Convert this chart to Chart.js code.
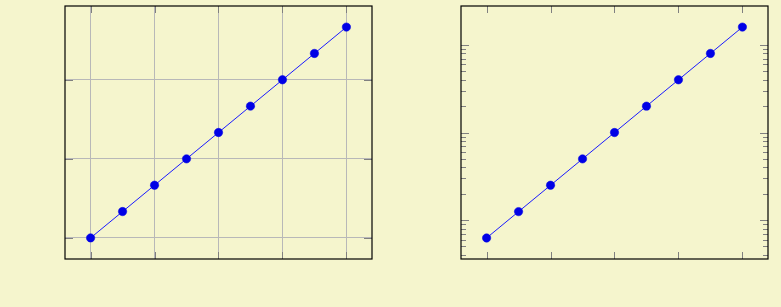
<!DOCTYPE html>
<html>
<head>
<meta charset="utf-8">
<script src="https://cdn.jsdelivr.net/npm/chart.js@4"></script>
<style>
  html, body { margin: 0; padding: 0; background: #f5f5cd; }
  .box { position: absolute; top: 0; height: 307px; }
  #left { left: 0; width: 390px; }
  #right { left: 390px; width: 391px; }
</style>
</head>
<body>
<div class="box" id="left"><canvas id="linChart"></canvas></div>
<div class="box" id="right"><canvas id="logChart"></canvas></div>
<script>
// data
const xValues = [0, 1, 2, 3, 4, 5, 6, 7, 8];
const linValues = [0, 1, 2, 3, 4, 5, 6, 7, 8];
const logValues = [0.625, 1.25, 2.5, 5, 10, 20, 40, 80, 160];

// ticks
const xTicks = [0, 2, 4, 6, 8];
const linYTicks = [0, 3, 6];
const logYTicks = [1, 10, 100];
const logMinorTicks = [0.4, 0.5, 0.6, 0.7, 0.8, 0.9, 2, 3, 4, 5, 6, 7, 8, 9, 20, 30, 40, 50, 60, 70, 80, 90];

const lineColor = '#1a1aff';
const markColor = '#0000e6';
const tickColor = '#808080';

function points(ys) {
    return xValues.map((x, i) => ({ x: x, y: ys[i] }));
}

// 框線與向內刻度
const frameTicks = {
    id: 'frameTicks',
    afterDraw(chart, args, opts) {
        const ctx = chart.ctx;
        const a = chart.chartArea;
        const xs = chart.scales.x;
        const ys = chart.scales.y;
        ctx.save();
        ctx.strokeStyle = tickColor;
        ctx.lineWidth = 1;
        ctx.beginPath();
        xTicks.forEach(v => {
            const px = Math.round(xs.getPixelForValue(v)) + 0.5;
            ctx.moveTo(px, a.top); ctx.lineTo(px, a.top + 7);
            ctx.moveTo(px, a.bottom); ctx.lineTo(px, a.bottom - 7);
        });
        opts.major.forEach(v => {
            const py = Math.round(ys.getPixelForValue(v)) + 0.5;
            ctx.moveTo(a.left, py); ctx.lineTo(a.left + 8, py);
            ctx.moveTo(a.right, py); ctx.lineTo(a.right - 8, py);
        });
        opts.minor.forEach(v => {
            const py = Math.round(ys.getPixelForValue(v)) + 0.5;
            ctx.moveTo(a.left, py); ctx.lineTo(a.left + 5, py);
            ctx.moveTo(a.right, py); ctx.lineTo(a.right - 5, py);
        });
        ctx.stroke();
        ctx.strokeStyle = '#000';
        ctx.lineWidth = 1.2;
        ctx.strokeRect(a.left, a.top, a.right - a.left, a.bottom - a.top);
        ctx.restore();
    }
};

function makeChart(id, ys, yScale, grid, major, minor, pad) {
    new Chart(document.getElementById(id), {
        type: 'line',
        data: {
            datasets: [{
                data: points(ys),
                borderColor: lineColor,
                borderWidth: 1,
                backgroundColor: markColor,
                pointBackgroundColor: markColor,
                pointBorderColor: markColor,
                pointRadius: 4.2,
                pointBorderWidth: 0.5,
                tension: 0
            }]
        },
        options: {
            responsive: true,
            maintainAspectRatio: false,
            animation: false,
            layout: { padding: pad },
            plugins: {
                legend: { display: false },
                tooltip: { enabled: false },
                frameTicks: { major: major, minor: minor }
            },
            scales: {
                x: {
                    type: 'linear',
                    min: -0.8,
                    max: 8.8,
                    afterBuildTicks: s => { s.ticks = xTicks.map(v => ({ value: v })); },
                    ticks: { display: false },
                    grid: { display: grid, color: '#b8b8b8', drawTicks: false },
                    border: { display: false }
                },
                y: Object.assign({
                    ticks: { display: false },
                    grid: { display: grid, color: '#b8b8b8', drawTicks: false },
                    border: { display: false }
                }, yScale)
            }
        },
        plugins: [frameTicks]
    });
}

makeChart('linChart', linValues, {
    type: 'linear',
    min: -0.8,
    max: 8.8,
    afterBuildTicks: s => { s.ticks = linYTicks.map(v => ({ value: v })); }
}, true, linYTicks, [], { left: 65, top: 6, right: 18, bottom: 48 });

makeChart('logChart', logValues, {
    type: 'logarithmic',
    min: 0.3597,
    max: 278.5
}, false, logYTicks, logMinorTicks, { left: 71, top: 6, right: 13, bottom: 48 });
</script>
</body>
</html>
